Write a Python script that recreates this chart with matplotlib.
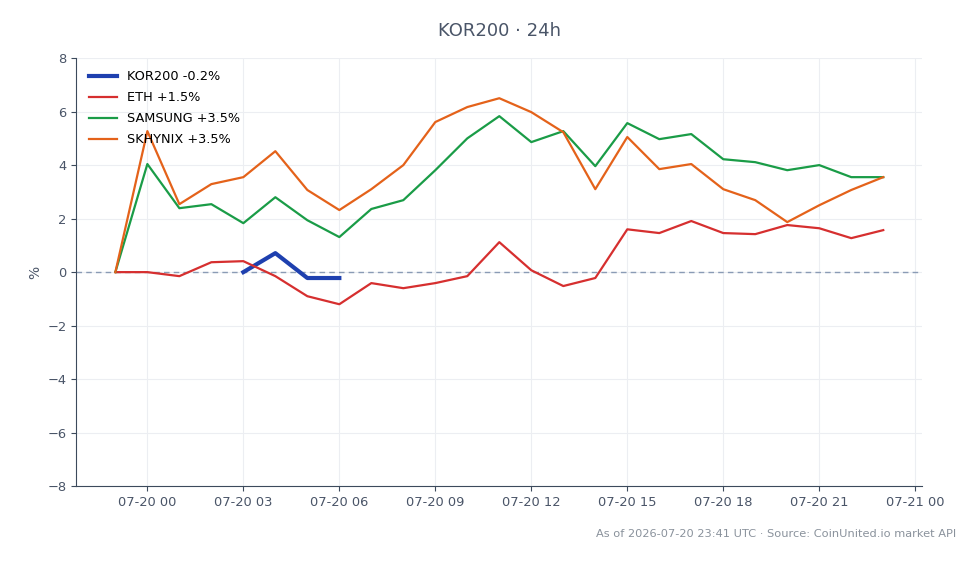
import matplotlib
matplotlib.use('Agg')
import matplotlib.pyplot as plt
import matplotlib.dates as mdates
import pandas as pd

# hourly timestamps, 07-19 23:00 -> 07-20 23:00 (UTC)
times = pd.date_range("2026-07-19 23:00", "2026-07-20 23:00", freq="h")

eth = [0.0, 0.0, -0.15, 0.37, 0.41, -0.15, -0.9, -1.2, -0.41, -0.6, -0.41, -0.15, 1.12,
       0.07, -0.52, -0.22, 1.6, 1.46, 1.91, 1.46, 1.42, 1.76, 1.64, 1.27, 1.57]
samsung = [0.0, 4.04, 2.39, 2.54, 1.83, 2.8, 1.94, 1.31, 2.36, 2.69, 3.81, 5.0, 5.83,
           4.86, 5.27, 3.96, 5.57, 4.97, 5.16, 4.22, 4.11, 3.81, 4.0, 3.55, 3.55]
skhynix = [0.0, 5.27, 2.54, 3.29, 3.55, 4.52, 3.07, 2.32, 3.1, 4.0, 5.61, 6.17, 6.5,
           5.98, 5.23, 3.1, 5.05, 3.85, 4.04, 3.1, 2.69, 1.87, 2.5, 3.07, 3.55]
# KOR200 only trades 03:00 - 06:00
kor_times = times[4:8]
kor200 = [0.0, 0.71, -0.22, -0.22]

fig, ax = plt.subplots(figsize=(9.8, 5.64), dpi=100)
fig.subplots_adjust(left=0.078, right=0.941, top=0.897, bottom=0.138)

ax.axhline(0, color="#8a9bb5", linestyle="--", linewidth=1, dashes=(4, 3))
ax.plot(kor_times, kor200, color="#1e40af", linewidth=3, label="KOR200 -0.2%")
ax.plot(times, eth, color="#d62f2f", linewidth=1.6, label="ETH +1.5%")
ax.plot(times, samsung, color="#1a9c47", linewidth=1.6, label="SAMSUNG +3.5%")
ax.plot(times, skhynix, color="#e4621a", linewidth=1.6, label="SKHYNIX +3.5%")

ax.set_ylim(-8, 8)
ax.set_xlim(pd.Timestamp("2026-07-19 21:47"), pd.Timestamp("2026-07-21 00:13"))
ax.xaxis.set_major_locator(mdates.HourLocator(byhour=range(0, 24, 3)))
ax.xaxis.set_major_formatter(mdates.DateFormatter("%m-%d %H"))
ax.set_ylabel("%", color="#4a5568", fontsize=10)

ax.grid(color="#eceef2", linewidth=0.8)
ax.set_axisbelow(True)
for side in ("top", "right"):
    ax.spines[side].set_visible(False)
for side in ("left", "bottom"):
    ax.spines[side].set_color("#3c4a5c")
ax.tick_params(colors="#3c4a5c", labelcolor="#4a5568", labelsize=9.4)

ax.set_title("KOR200 · 24h", color="#4a5568", fontsize=13, pad=16)
ax.legend(loc="upper left", frameon=False, fontsize=9.3,
          borderaxespad=0.55, handlelength=2.2, labelspacing=0.62)

fig.text(0.976, 0.053, "As of 2026-07-20 23:41 UTC · Source: CoinUnited.io market API",
         ha="right", va="center", color="#8a929c", fontsize=8.2)

plt.savefig("out.png")
plt.close()
